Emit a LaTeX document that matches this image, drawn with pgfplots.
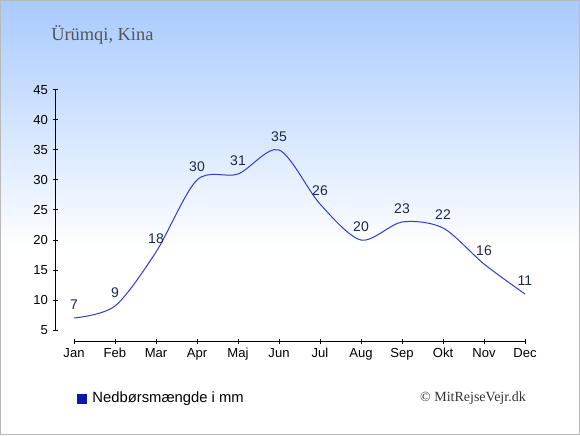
\documentclass[border=0pt]{standalone}
\usepackage{pgfplots}
\pgfplotsset{compat=1.18}
\usepackage{fontspec}
\setmainfont{Liberation Sans}
\newfontfamily\seriffont{Liberation Serif}
\definecolor{bgtop}{RGB}{168,202,255}
\definecolor{linecol}{RGB}{50,60,200}
\definecolor{labcol}{RGB}{30,40,75}
\definecolor{legblue}{RGB}{10,25,170}
\definecolor{titlecol}{RGB}{85,85,85}
\begin{document}
\begin{tikzpicture}[x=0.75pt,y=0.75pt]
\useasboundingbox (0,0) rectangle (580,435);
\fill[white] (0,0) rectangle (580,435);
\shade[top color=bgtop, bottom color=white] (0,185) rectangle (580,435);
\draw[line width=0.75pt, color={rgb,255:red,185;green,185;blue,185}] (0.5,0.5) rectangle (579.5,434.5);
\node[anchor=west, inner sep=0pt, text=titlecol, font=\seriffont\fontsize{13.8}{16}\selectfont] at (51,400) {Ürümqi, Kina};
\node[anchor=east, inner sep=0pt, text=black!80, font=\seriffont\fontsize{10.5}{12}\selectfont] at (526,37) {© MitRejseVejr.dk};
\begin{axis}[
  at={(74pt*0.75,105pt*0.75)}, anchor=south west,
  scale only axis, width=338.25pt, height=180pt,
  xmin=0, xmax=11, ymin=5, ymax=45,
  enlargelimits=false,
  axis x line*=bottom, axis y line*=left,
  axis x line shift=8.25pt, axis y line shift=14.25pt,
  axis line style={line width=0.75pt, black},
  xtick={0,...,11},
  xticklabels={Jan,Feb,Mar,Apr,Maj,Jun,Jul,Aug,Sep,Okt,Nov,Dec},
  ytick={5,10,...,45},
  tick align=center, major tick length=3.75pt,
  tick style={line width=0.75pt, black},
  tick label style={font=\fontsize{9.8}{11}\selectfont, text=black},
  /pgf/number format/assume math mode=true,
  clip=false,
  legend style={at={(0.0067,-0.285)}, anchor=west, draw=none, fill=none,
    font=\fontsize{11.1}{13}\selectfont, inner sep=0pt},
  legend image code/.code={\fill[legblue] (0pt,-3.4pt) rectangle (6.8pt,3.4pt); \path (9pt,0pt);},
]
\addplot[color=linecol, line width=0.75pt, smooth, tension=0.5,
  nodes near coords,
  every node near coord/.append style={font=\fontsize{10.5}{12}\selectfont, text=labcol, anchor=center, yshift=9.75pt},
  forget plot]
  coordinates {(0,7) (1,9) (2,18) (3,30) (4,31) (5,35) (6,26) (7,20) (8,23) (9,22) (10,16) (11,11)};
\addlegendimage{legblue}
\addlegendentry{Nedbørsmængde i mm}
\end{axis}
\end{tikzpicture}
\end{document}
